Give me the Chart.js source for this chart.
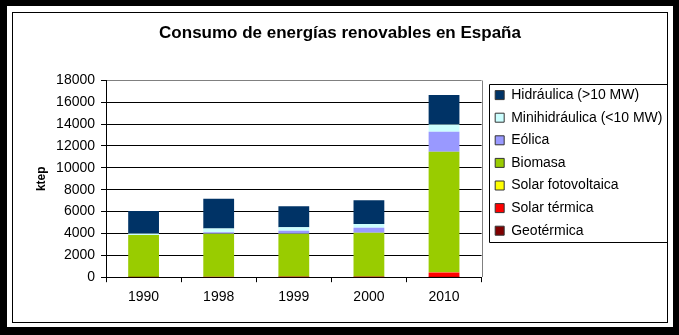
<!DOCTYPE html>
<html>
<head>
<meta charset="utf-8">
<script src="https://cdn.jsdelivr.net/npm/chart.js@4/dist/chart.umd.min.js"></script>
<style>
  body { margin: 0; background: #fff; }
  #outer {
    position: absolute; left: 0; top: 0; width: 679px; height: 335px;
    box-sizing: border-box; border: 6px solid #000; border-left-width: 7px; border-bottom-width: 8px;
  }
  #inner {
    position: absolute; left: 12px; top: 12px; width: 656px; height: 311px;
    box-sizing: border-box; border: 1px solid #000;
  }
  #chart { position: absolute; left: 13px; top: 13px; }
</style>
</head>
<body>
<div id="outer"></div>
<div id="inner"></div>
<canvas id="chart" width="654" height="309"></canvas>
<script>
var years = ["1990", "1998", "1999", "2000", "2010"];

// ktep por fuente
var hidraulica = [2060, 2720, 1910, 2180, 2680];
var minihidraulica = [120, 350, 330, 340, 660];
var eolica = [1, 120, 270, 460, 1830];
var biomasa = [3840, 3950, 3940, 4020, 11020];
var solarFotovoltaica = [1, 2, 2, 2, 20];
var solarTermica = [22, 26, 28, 31, 430];
var geotermica = [3, 3, 3, 3, 8];

var yTicks = [0, 2000, 4000, 6000, 8000, 10000, 12000, 14000, 16000, 18000];

Chart.defaults.font.family = '"Liberation Sans", Arial, sans-serif';
Chart.defaults.color = "#000";

// legend hugs the right edge: drop part of its right padding
var legendFit = {
  id: "legendFit",
  beforeLayout: function (chart) {
    var legend = chart.legend;
    if (!legend || legend._fitPatched) return;
    var fit = legend.fit;
    legend.fit = function () {
      fit.call(this);
      this.width -= 5.5;
    };
    legend._fitPatched = true;
  },
};

// grey frame on the right of the plot + box around the legend
var chartFrame = {
  id: "chartFrame",
  afterDraw: function (chart) {
    var ctx = chart.ctx;
    var a = chart.chartArea;
    ctx.save();
    ctx.lineWidth = 1;
    ctx.strokeStyle = "#808080";
    var rx = Math.round(a.right) + 0.5;
    ctx.beginPath();
    ctx.moveTo(rx, Math.round(a.top) + 0.5);
    ctx.lineTo(rx, Math.round(a.bottom));
    ctx.stroke();

    var boxes = chart.legend.legendHitBoxes;
    var first = boxes[0];
    var last = boxes[boxes.length - 1];
    var x = Math.round(first.left - 6) + 0.5;
    var top = Math.round(first.top - 4) + 0.5;
    var bottom = Math.round(last.top + last.height + 4) + 0.5;
    ctx.strokeStyle = "#000";
    ctx.beginPath();
    ctx.moveTo(chart.width + 1, top);
    ctx.lineTo(x, top);
    ctx.lineTo(x, bottom);
    ctx.lineTo(chart.width + 1, bottom);
    ctx.stroke();
    ctx.restore();
  },
};

function serie(label, data, color) {
  return {
    label: label,
    data: data,
    backgroundColor: color,
    borderWidth: 0,
    barPercentage: 0.41,
    categoryPercentage: 1,
  };
}

new Chart(document.getElementById("chart"), {
  type: "bar",
  data: {
    labels: years,
    datasets: [
      serie("Geotérmica", geotermica, "#800000"),
      serie("Solar térmica", solarTermica, "#FF0000"),
      serie("Solar fotovoltaica", solarFotovoltaica, "#FFFF00"),
      serie("Biomasa", biomasa, "#99CC00"),
      serie("Eólica", eolica, "#9999FF"),
      serie("Minihidráulica (<10 MW)", minihidraulica, "#CCFFFF"),
      serie("Hidráulica (>10 MW)", hidraulica, "#003366"),
    ],
  },
  options: {
    responsive: false,
    animation: false,
    layout: { padding: { left: 0, right: 0, top: 0, bottom: 9.2 } },
    plugins: {
      title: {
        display: true,
        text: "Consumo de energías renovables en España",
        font: { size: 17, weight: "bold" },
        padding: { top: 9.8, bottom: 37.1 },
      },
      legend: {
        position: "right",
        align: "center",
        reverse: true,
        maxWidth: 200,
        labels: {
          boxWidth: 9,
          boxHeight: 9,
          padding: 8.6,
          font: { size: 14 },
          generateLabels: function (chart) {
            var items = Chart.defaults.plugins.legend.labels.generateLabels(chart);
            items.forEach(function (item) {
              item.lineWidth = 1;
              item.strokeStyle = "#333";
            });
            return items;
          },
        },
      },
      tooltip: { enabled: false },
    },
    scales: {
      x: {
        stacked: true,
        grid: {
          drawOnChartArea: false,
          drawTicks: true,
          tickLength: 5,
          tickColor: "#000",
        },
        border: { color: "#000" },
        ticks: { font: { size: 14 }, padding: 6.9 },
      },
      y: {
        stacked: true,
        min: yTicks[0],
        max: yTicks[yTicks.length - 1],
        grid: {
          color: function (ctx) {
            return ctx.tick && ctx.tick.value === yTicks[yTicks.length - 1] ? "#808080" : "#000";
          },
          tickColor: "#000",
          tickLength: 5,
        },
        border: { color: "#000" },
        afterBuildTicks: function (axis) {
          axis.ticks = yTicks.map(function (v) { return { value: v }; });
        },
        ticks: {
          font: { size: 14 },
          padding: 6,
          callback: function (v) { return String(v); },
        },
        title: {
          display: true,
          text: "ktep",
          font: { size: 12, weight: "bold" },
          padding: { top: 21.8, bottom: 0.9 },
        },
      },
      gap: {
        position: "right",
        grid: { display: false },
        border: { display: false },
        ticks: { display: false },
        afterFit: function (axis) { axis.width = 5; },
      },
    },
  },
  plugins: [legendFit, chartFrame],
});
</script>
</body>
</html>
